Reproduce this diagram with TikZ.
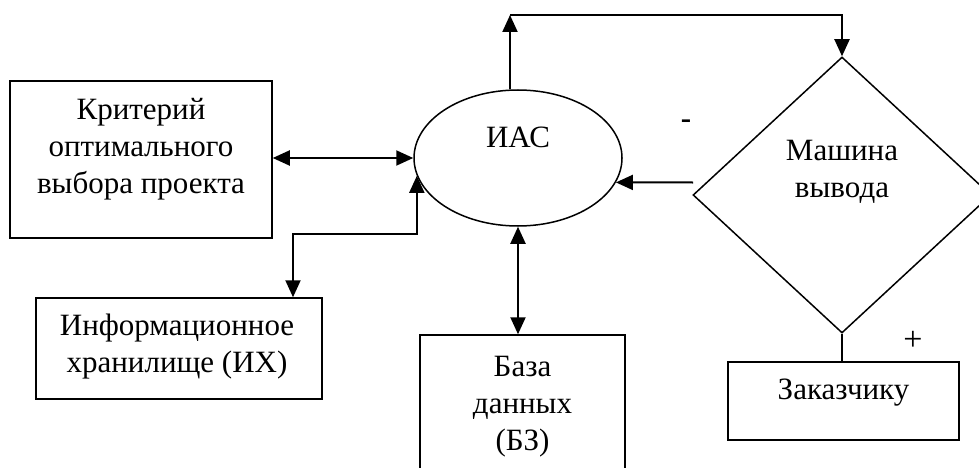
\documentclass[tikz,border=0pt]{standalone}
\usepackage{fontspec}
\setmainfont{Liberation Serif}
\usetikzlibrary{shapes.geometric,arrows.meta}
\tikzset{
  shapeline/.style={draw, line width=1.5pt, inner sep=0pt},
  boxnode/.style={shapeline, rectangle},
  txt/.style={inner sep=0pt, align=center, font=\fontsize{31}{37}\selectfont},
  conn/.style={line width=2pt},
  tip/.style={-{Triangle[length=17pt,width=15pt]}},
  dtip/.style={{Triangle[length=17pt,width=15pt]}-{Triangle[length=17pt,width=15pt]}}
}
\begin{document}
\begin{tikzpicture}[x=1pt,y=-1pt]
\useasboundingbox (0,0) rectangle (979,468);
% shapes
\node[boxnode, minimum width=262pt, minimum height=157pt] (crit) at (141,159.5) {};
\node[txt] (critt) at (141,149) {Критерий\\оптимального\\выбора проекта};
\node[boxnode, minimum width=286pt, minimum height=101pt] (ix) at (179,348.5) {};
\node[txt] (ixt) at (177,347) {Информационное\\хранилище (ИХ)};
\node[boxnode, minimum width=205pt, minimum height=170pt] (bd) at (522.5,420) {};
\node[txt] (bdt) at (522.5,407) {База\\данных\\(БЗ)};
\node[shapeline, ellipse, minimum width=208pt, minimum height=136pt] (ias) at (518,158) {};
\node[txt] (iast) at (518,137) {ИАС};
\node[shapeline, diamond, minimum width=298pt, minimum height=276pt] (mach) at (842,195) {};
\node[txt] (macht) at (842,172) {Машина\\вывода};
\node[boxnode, minimum width=231pt, minimum height=78pt] (cust) at (843.5,401) {};
\node[txt] (custt) at (843.5,393) {Заказчику};
\node[inner sep=0pt, font=\bfseries\fontsize{31}{37}\selectfont] (minus) at (686,124) {-};
\node[inner sep=0pt, font=\fontsize{34}{37}\selectfont] (plus) at (913,341) {+};
% connectors
\coordinate (t1) at (510,15);
\coordinate (t2) at (842,15);
\coordinate (c1) at (293,234);
\coordinate (m1) at (693,182.5);
\draw[conn, dtip] (ias.west -| crit.east) -- (ias.west);
\draw[conn, tip] (ias.north -| t1) -- (t1);
\draw[conn, tip] (t1) -- (t2) -- (mach.north);
\draw[conn, dtip] (ias.190) |- (c1) -- (c1 |- ix.north);
\draw[conn, dtip] (ias.south) -- (ias.south |- bd.north);
\draw[conn, tip] (m1) -- (ias.-14);
\draw[conn] (mach.south) -- (mach.south |- cust.north);
\end{tikzpicture}
\end{document}
